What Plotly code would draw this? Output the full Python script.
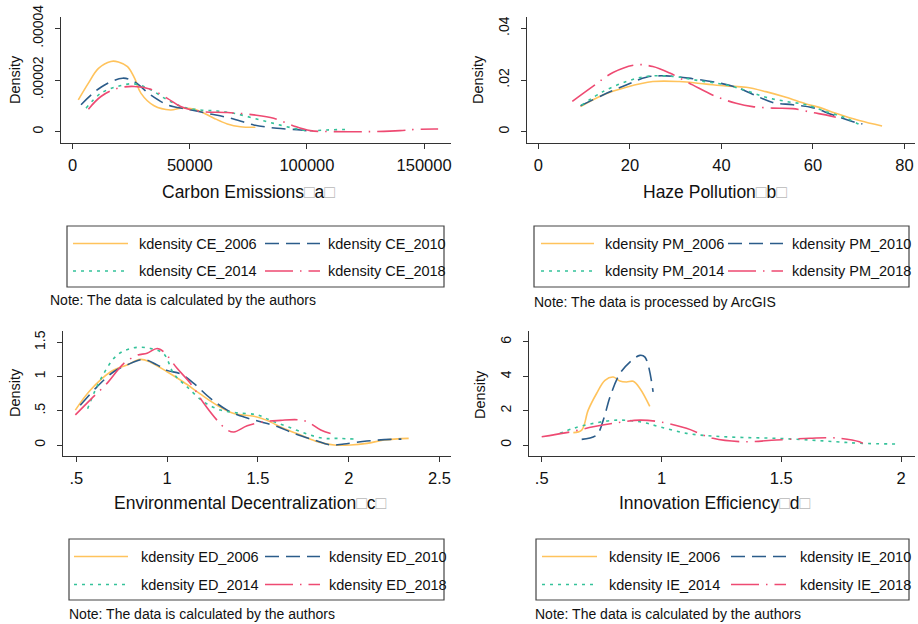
import plotly.graph_objects as go

W, H = 918, 624
FONT = "Liberation Sans, Arial, sans-serif"

# ---------------- data ----------------
years = ["2006", "2010", "2014", "2018"]
colors = ["#FFC35C", "#2B5C8A", "#35C29A", "#EE4A72"]
dashes = ["solid", "14px,7px", "3px,5px", "28px,7px,1.5px,7px"]

# Carbon emissions (a)
CE_2006_x = [2400, 6500, 11000, 16300, 19500, 23400, 26500, 29100, 34750, 41800, 46100, 50350, 54600, 60300, 66000, 71600, 78000]
CE_2006_y = [1.23e-5, 1.85e-5, 2.45e-5, 2.72e-5, 2.70e-5, 2.52e-5, 2.05e-5, 1.49e-5, 1.0e-5, 0.84e-5, 0.91e-5, 0.89e-5, 0.78e-5, 0.52e-5, 0.30e-5, 0.19e-5, 0.17e-5]
CE_2010_x = [3550, 12050, 21300, 26200, 33300, 40400, 48900, 57400, 67400, 77300, 87200, 97200, 100000]
CE_2010_y = [1.04e-5, 1.72e-5, 2.07e-5, 1.94e-5, 1.42e-5, 1.04e-5, 0.87e-5, 0.71e-5, 0.52e-5, 0.26e-5, 0.13e-5, 0.065e-5, 0.03e-5]
CE_2014_x = [5700, 12050, 19150, 26200, 33300, 40400, 47500, 54600, 61700, 68800, 77300, 85800, 94300, 100000, 108500, 118400]
CE_2014_y = [0.91e-5, 1.49e-5, 1.75e-5, 1.85e-5, 1.62e-5, 1.23e-5, 0.94e-5, 0.84e-5, 0.80e-5, 0.71e-5, 0.52e-5, 0.32e-5, 0.13e-5, 0.04e-5, 0.065e-5, 0.09e-5]
CE_2018_x = [6700, 12050, 19150, 26200, 33300, 40400, 46100, 54600, 66000, 77300, 85800, 94300, 101400, 111300, 125500, 139700, 146800, 156000]
CE_2018_y = [0.87e-5, 1.36e-5, 1.68e-5, 1.75e-5, 1.64e-5, 1.29e-5, 0.97e-5, 0.78e-5, 0.74e-5, 0.65e-5, 0.52e-5, 0.22e-5, 0.04e-5, 0.0, 0.0, 0.04e-5, 0.09e-5, 0.10e-5]

# Haze pollution (b)
PM_2006_x = [9.2, 14.1, 19.2, 25.0, 30.8, 36.7, 41.0, 45.4, 49.7, 54.1, 58.5, 61.4, 65.0, 70.1, 75.1]
PM_2006_y = [0.0097, 0.0142, 0.0172, 0.0194, 0.0194, 0.0184, 0.0177, 0.0172, 0.0155, 0.0133, 0.0107, 0.0094, 0.0071, 0.0043, 0.0022]
PM_2010_x = [9.2, 14.1, 19.2, 23.6, 27.9, 33.7, 39.6, 43.2, 46.8, 51.2, 55.6, 59.9, 64.3, 69.4, 70.8]
PM_2010_y = [0.0100, 0.0142, 0.0181, 0.0211, 0.0216, 0.0205, 0.0188, 0.0172, 0.0145, 0.0113, 0.0104, 0.0093, 0.0065, 0.0035, 0.0030]
PM_2014_x = [9.4, 14.1, 19.2, 23.6, 29.4, 35.2, 41.0, 45.4, 49.7, 54.1, 58.5, 62.8, 67.2, 70.8]
PM_2014_y = [0.0102, 0.0155, 0.0194, 0.0214, 0.0214, 0.0197, 0.0181, 0.0159, 0.0133, 0.0117, 0.0104, 0.0078, 0.0052, 0.0022]
PM_2018_x = [7.4, 11.9, 16.3, 21.4, 25.0, 28.7, 33.7, 38.8, 43.2, 46.8, 51.2, 55.6, 59.9, 62.8, 65.0]
PM_2018_y = [0.0117, 0.0175, 0.0229, 0.0259, 0.0252, 0.0227, 0.0181, 0.0136, 0.0110, 0.0097, 0.0091, 0.0089, 0.0074, 0.0065, 0.0056]

# Environmental decentralization (c)
ED_2006_x = [0.495, 0.577, 0.69, 0.78, 0.853, 0.908, 1.0, 1.09, 1.18, 1.276, 1.368, 1.478, 1.55, 1.643, 1.735, 1.827, 1.92, 2.01, 2.10, 2.195, 2.33]
ED_2006_y = [0.51, 0.80, 1.07, 1.17, 1.25, 1.21, 1.07, 0.92, 0.75, 0.58, 0.46, 0.42, 0.36, 0.24, 0.146, 0.05, 0.0, 0.0, 0.024, 0.073, 0.097]
ED_2010_x = [0.522, 0.614, 0.706, 0.78, 0.871, 0.945, 1.0, 1.074, 1.147, 1.239, 1.331, 1.423, 1.515, 1.607, 1.699, 1.809, 1.90, 1.974, 2.10, 2.23, 2.29]
ED_2010_y = [0.58, 0.85, 1.07, 1.17, 1.25, 1.17, 1.09, 1.04, 0.90, 0.68, 0.51, 0.41, 0.34, 0.27, 0.17, 0.073, 0.0, 0.015, 0.058, 0.083, 0.087]
ED_2014_x = [0.5625, 0.632, 0.724, 0.816, 0.908, 0.982, 1.037, 1.110, 1.202, 1.294, 1.386, 1.496, 1.57, 1.662, 1.772, 1.864, 1.937, 2.03]
ED_2014_y = [0.53, 0.95, 1.31, 1.42, 1.41, 1.33, 1.04, 0.85, 0.63, 0.51, 0.47, 0.44, 0.36, 0.27, 0.16, 0.097, 0.097, 0.087]
ED_2018_x = [0.495, 0.577, 0.669, 0.761, 0.835, 0.890, 0.945, 0.982, 1.055, 1.129, 1.202, 1.276, 1.331, 1.368, 1.441, 1.533, 1.625, 1.717, 1.772, 1.846, 1.90]
ED_2018_y = [0.44, 0.66, 0.90, 1.19, 1.31, 1.34, 1.41, 1.36, 1.12, 0.90, 0.61, 0.36, 0.22, 0.19, 0.28, 0.34, 0.36, 0.37, 0.34, 0.22, 0.17]

# Innovation efficiency (d)
IE_2006_x = [0.632, 0.667, 0.694, 0.729, 0.764, 0.799, 0.826, 0.854, 0.882, 0.91, 0.951]
IE_2006_y = [0.72, 0.87, 2.03, 3.0, 3.77, 3.96, 3.73, 3.67, 3.71, 3.29, 2.25]
IE_2010_x = [0.667, 0.729, 0.757, 0.785, 0.826, 0.868, 0.910, 0.931, 0.965]
IE_2010_y = [0.33, 0.58, 1.45, 2.80, 4.15, 4.83, 5.22, 5.12, 3.09]
IE_2014_x = [0.576, 0.632, 0.715, 0.813, 0.910, 0.993, 1.104, 1.215, 1.34, 1.479, 1.618, 1.729, 1.826, 1.993]
IE_2014_y = [0.68, 0.97, 1.26, 1.45, 1.35, 1.06, 0.68, 0.52, 0.44, 0.39, 0.29, 0.19, 0.10, 0.058]
IE_2018_x = [0.5, 0.604, 0.715, 0.813, 0.910, 0.993, 1.104, 1.215, 1.34, 1.479, 1.618, 1.729, 1.826, 1.84]
IE_2018_y = [0.48, 0.72, 1.06, 1.29, 1.45, 1.35, 0.97, 0.39, 0.19, 0.29, 0.39, 0.41, 0.19, 0.10]

# tick labels
CE_xticks = [0, 50000, 100000, 150000]
CE_xtext = ["0", "50000", "100000", "150000"]
CE_yticks = [0, 0.00002, 0.00004]
CE_ytext = ["0", ".00002", ".00004"]
PM_xticks = [0, 20, 40, 60, 80]
PM_xtext = ["0", "20", "40", "60", "80"]
PM_yticks = [0, 0.02, 0.04]
PM_ytext = ["0", ".02", ".04"]
ED_xticks = [0.5, 1, 1.5, 2, 2.5]
ED_xtext = [".5", "1", "1.5", "2", "2.5"]
ED_yticks = [0, 0.5, 1, 1.5]
ED_ytext = ["0", ".5", "1", "1.5"]
IE_xticks = [0.5, 1, 1.5, 2]
IE_xtext = [".5", "1", "1.5", "2"]
IE_yticks = [0, 2, 4, 6]
IE_ytext = ["0", "2", "4", "6"]

titles = ["Carbon Emissions", "Haze Pollution", "Environmental Decentralization", "Innovation Efficiency"]
letters = ["a", "b", "c", "d"]
codes = ["CE", "PM", "ED", "IE"]
notes = ["Note: The data is calculated by the authors",
         "Note: The data is processed by ArcGIS",
         "Note: The data is calculated by the authors",
         "Note: The data is calculated by the authors"]

series = {
    "CE": [(CE_2006_x, CE_2006_y), (CE_2010_x, CE_2010_y), (CE_2014_x, CE_2014_y), (CE_2018_x, CE_2018_y)],
    "PM": [(PM_2006_x, PM_2006_y), (PM_2010_x, PM_2010_y), (PM_2014_x, PM_2014_y), (PM_2018_x, PM_2018_y)],
    "ED": [(ED_2006_x, ED_2006_y), (ED_2010_x, ED_2010_y), (ED_2014_x, ED_2014_y), (ED_2018_x, ED_2018_y)],
    "IE": [(IE_2006_x, IE_2006_y), (IE_2010_x, IE_2010_y), (IE_2014_x, IE_2014_y), (IE_2018_x, IE_2018_y)],
}
ticks = {
    "CE": (CE_xticks, CE_xtext, CE_yticks, CE_ytext),
    "PM": (PM_xticks, PM_xtext, PM_yticks, PM_ytext),
    "ED": (ED_xticks, ED_xtext, ED_yticks, ED_ytext),
    "IE": (IE_xticks, IE_xtext, IE_yticks, IE_ytext),
}

# ---------------- layout geometry (pixels) ----------------
def px(x):
    return x / W

def py(y):
    return 1 - y / H

panels = [
    dict(x0=61, x1=451, yt=17, yb=143, xr=[-5000, 161500], yr=[-0.0000044, 0.0000444]),
    dict(x0=527, x1=915, yt=17, yb=143, xr=[-2.5, 82.3], yr=[-0.0044, 0.0444]),
    dict(x0=63, x1=451, yt=331, yb=456, xr=[0.427, 2.563], yr=[-0.16, 1.665]),
    dict(x0=529, x1=915, yt=331, yb=456, xr=[0.447, 2.058], yr=[-0.64, 6.64]),
]
ytitle_pos = [(15, 80), (478, 80), (15, 393), (480, 395)]
xtitle_pos = [(248, 192), (715, 192), (250, 503), (715, 503)]
legend_box = [
    dict(x0=67, x1=444, y0=226, y1=287, r1=243.5, r2=271, s1=(73, 128), t1=137, s2=(265, 320), t2=326),
    dict(x0=534, x1=909, y0=226, y1=287, r1=243.5, r2=271, s1=(541, 594), t1=603, s2=(728, 783), t2=790),
    dict(x0=69, x1=444, y0=539, y1=600, r1=556.5, r2=584.5, s1=(74, 128), t1=139, s2=(265, 320), t2=327),
    dict(x0=536, x1=909, y0=539, y1=600, r1=556.5, r2=584.5, s1=(542, 597), t1=607, s2=(731, 786), t2=798),
]
note_pos = [(48, 300), (532, 302), (67, 614), (533, 614)]

AXC = "#333333"
fig = go.Figure()
shapes = []
annotations = []

for i, code in enumerate(codes):
    p = panels[i]
    xa = "x" if i == 0 else f"x{i+1}"
    ya = "y" if i == 0 else f"y{i+1}"
    for k in range(4):
        xs, ys = series[code][k]
        fig.add_trace(go.Scatter(
            x=xs, y=ys, mode="lines", xaxis=xa, yaxis=ya,
            line=dict(color=colors[k], width=1.6, dash=dashes[k], shape="spline", smoothing=1.0),
            name=f"kdensity {code}_{years[k]}", showlegend=False, hoverinfo="skip",
        ))
    xt, xtt, yt, ytt = ticks[code]
    xkey = "xaxis" if i == 0 else f"xaxis{i+1}"
    ykey = "yaxis" if i == 0 else f"yaxis{i+1}"
    common = dict(showline=True, linecolor=AXC, linewidth=1.2, ticks="outside", ticklen=5,
                  tickcolor=AXC, tickwidth=1.2, showgrid=False, zeroline=False,
                  fixedrange=True, automargin=False)
    fig.update_layout(**{
        xkey: dict(domain=[px(p["x0"]), px(p["x1"])], range=p["xr"], anchor=ya,
                   tickvals=xt, ticktext=xtt, ticklabelstandoff=2,
                   tickfont=dict(family=FONT, size=16.5, color="#111"), **common),
        ykey: dict(domain=[py(p["yb"]), py(p["yt"])], range=p["yr"], anchor=xa,
                   tickvals=yt, ticktext=ytt, tickangle=-90, ticklabelstandoff=6,
                   tickfont=dict(family=FONT, size=14, color="#111"), **common),
    })
    tx, ty = ytitle_pos[i]
    annotations.append(dict(x=px(tx), y=py(ty), xref="paper", yref="paper", text="Density",
                            textangle=-90, showarrow=False, xanchor="center", yanchor="middle",
                            font=dict(family=FONT, size=14.5, color="#111")))
    box = "<span style='color:#b8b8b8'>\u25a1</span>"
    tx, ty = xtitle_pos[i]
    annotations.append(dict(x=px(tx), y=py(ty), xref="paper", yref="paper",
                            text=f"{titles[i]}{box}{letters[i]}{box}",
                            showarrow=False, xanchor="center", yanchor="middle",
                            font=dict(family=FONT, size=17.5, color="#111")))
    L = legend_box[i]
    shapes.append(dict(type="rect", xref="paper", yref="paper",
                       x0=px(L["x0"]), x1=px(L["x1"]), y0=py(L["y1"]), y1=py(L["y0"]),
                       line=dict(color="#444", width=1.2), fillcolor="white", layer="above"))
    for k in range(4):
        row = L["r1"] if k < 2 else L["r2"]
        s = L["s1"] if k % 2 == 0 else L["s2"]
        t = L["t1"] if k % 2 == 0 else L["t2"]
        shapes.append(dict(type="line", xref="paper", yref="paper",
                           x0=px(s[0]), x1=px(s[1]), y0=py(row), y1=py(row),
                           line=dict(color=colors[k], width=1.6, dash=dashes[k]), layer="above"))
        annotations.append(dict(x=px(t), y=py(row), xref="paper", yref="paper",
                                text=f"kdensity {code}_{years[k]}", showarrow=False,
                                xanchor="left", yanchor="middle",
                                font=dict(family=FONT, size=14.5, color="#111")))
    nx, ny = note_pos[i]
    annotations.append(dict(x=px(nx), y=py(ny), xref="paper", yref="paper", text=notes[i],
                            showarrow=False, xanchor="left", yanchor="middle",
                            font=dict(family=FONT, size=14, color="#111")))

fig.update_layout(
    width=W, height=H, margin=dict(l=0, r=0, t=0, b=0),
    paper_bgcolor="white", plot_bgcolor="white",
    showlegend=False, shapes=shapes, annotations=annotations,
    font=dict(family=FONT),
)

fig.write_html("out.html", config={"displayModeBar": False})
